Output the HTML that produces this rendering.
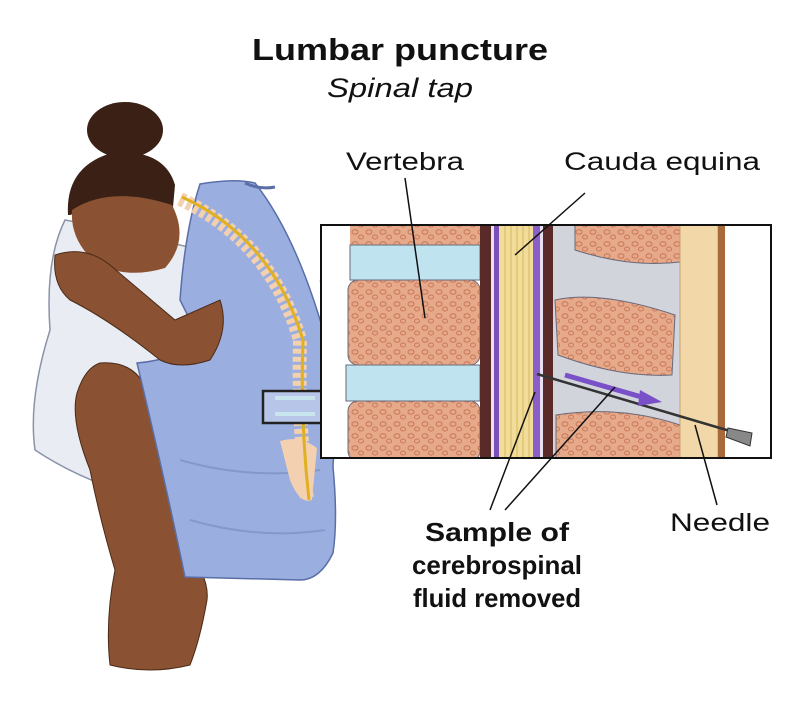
<!DOCTYPE html>
<html><head><meta charset="utf-8"><style>
body{margin:0;background:#fff;}
svg{display:block}
text{font-family:"Liberation Sans",sans-serif;fill:#111}
</style></head><body>
<svg width="800" height="710" viewBox="0 0 800 710" xmlns="http://www.w3.org/2000/svg">
<defs>
<pattern id="bone" width="14" height="12" patternUnits="userSpaceOnUse">
<rect width="14" height="12" fill="#e6a98a"/>
<ellipse cx="5" cy="4" rx="3" ry="2.2" fill="none" stroke="#c9785a" stroke-width="1"/>
<ellipse cx="11" cy="9" rx="2.5" ry="2" fill="none" stroke="#c9785a" stroke-width="1"/>
</pattern>
<clipPath id="box"><rect x="321" y="225" width="450" height="233"/></clipPath>
</defs>
<text x="400" y="60" text-anchor="middle" font-size="31" font-weight="bold" textLength="296" lengthAdjust="spacingAndGlyphs">Lumbar puncture</text>
<text x="400" y="97" text-anchor="middle" font-size="27" font-style="italic" textLength="146" lengthAdjust="spacingAndGlyphs">Spinal tap</text>
<text x="405" y="170" text-anchor="middle" font-size="25" textLength="118" lengthAdjust="spacingAndGlyphs">Vertebra</text>
<text x="662" y="170" text-anchor="middle" font-size="25" textLength="196" lengthAdjust="spacingAndGlyphs">Cauda equina</text>
<text x="497" y="541" text-anchor="middle" font-size="26" font-weight="bold" textLength="144" lengthAdjust="spacingAndGlyphs">Sample of</text>
<text x="497" y="574" text-anchor="middle" font-size="26" font-weight="bold" textLength="170" lengthAdjust="spacingAndGlyphs">cerebrospinal</text>
<text x="497" y="607" text-anchor="middle" font-size="26" font-weight="bold" textLength="168" lengthAdjust="spacingAndGlyphs">fluid removed</text>
<text x="720" y="531" text-anchor="middle" font-size="25" textLength="100" lengthAdjust="spacingAndGlyphs">Needle</text>

<!-- pillow -->
<path d="M65 220 Q120 230 200 250 L205 420 Q180 470 140 497 Q80 480 35 450 Q28 400 50 330 Q45 260 65 220Z" fill="#e9ecf2" stroke="#8a93a8" stroke-width="1.5"/>
<!-- leg -->
<path d="M100 363 Q140 360 150 400 Q165 470 180 540 Q210 575 207 600 Q200 640 190 665 Q150 675 110 665 Q105 620 115 570 Q100 520 90 470 Q70 420 77 393 Q85 368 100 363Z" fill="#8a5232" stroke="#4a2a18" stroke-width="1"/>
<!-- gown -->
<path d="M200 184 Q235 178 255 183 Q300 240 330 355 Q336 420 333 467 Q338 520 333 553 Q320 580 300 580 L185 577 Q165 480 137 363 Q175 360 200 340 L180 300 Q185 230 200 184Z" fill="#9aaee0" stroke="#5a6fa8" stroke-width="1.5"/>
<path d="M245 183 Q260 190 275 187 M320 280 Q335 285 340 300" stroke="#5a6fa8" stroke-width="3" fill="none"/>
<path d="M180 460 Q250 480 320 470 M190 520 Q260 540 325 530" stroke="#8598cc" stroke-width="2" fill="none"/>
<!-- spine -->
<path d="M180 199 Q270 240 300 340 Q298 420 307 500" fill="none" stroke="#f2d0b0" stroke-width="14" stroke-dasharray="5 3"/>
<path d="M280 441 Q300 435 317 448 L312 500 Q300 505 290 480 Z" fill="#f2d0b0"/>
<path d="M182 197 Q272 238 303 340 Q300 420 309 500" fill="none" stroke="#e0b020" stroke-width="3"/>
<!-- hair/head -->
<ellipse cx="125" cy="130" rx="38" ry="28" fill="#3a2015"/>
<path d="M68 215 Q65 165 115 152 Q165 150 175 185 L172 218 Q140 190 70 215Z" fill="#3a2015"/>
<path d="M72 210 Q110 185 172 205 Q190 240 165 268 Q125 280 95 262 Q70 240 72 210Z" fill="#8a5232"/>
<!-- arm -->
<path d="M55 255 Q85 245 110 265 L175 320 L220 300 Q230 330 210 360 Q180 370 160 360 Q110 320 70 300 Q52 285 55 255Z" fill="#8a5232" stroke="#4a2a18" stroke-width="1"/>
<rect x="263" y="391" width="68" height="32" fill="#b7c6e8" stroke="#222" stroke-width="2.5"/>
<path d="M275 398 H315 M275 414 H315" stroke="#c9e6ee" stroke-width="4"/>

<!-- inset -->
<g clip-path="url(#box)">
<rect x="321" y="225" width="450" height="233" fill="#fff"/>
<rect x="350" y="220" width="130" height="25" fill="url(#bone)"/>
<rect x="350" y="245" width="130" height="35" fill="#bfe4ef" stroke="#6a6a7a"/>
<rect x="348" y="280" width="132" height="85" rx="10" fill="url(#bone)" stroke="#6a6a7a"/>
<rect x="346" y="365" width="134" height="36" fill="#bfe4ef" stroke="#6a6a7a"/>
<rect x="348" y="401" width="132" height="60" rx="10" fill="url(#bone)" stroke="#6a6a7a"/>
<rect x="480" y="225" width="11" height="233" fill="#5a2a28"/>
<rect x="491" y="225" width="3" height="233" fill="#e8e0f0"/>
<rect x="494" y="225" width="5" height="233" fill="#7a50b8"/>
<rect x="499" y="225" width="34" height="233" fill="#f2dc9a"/>
<g stroke="#d8b860" stroke-width="1"><path d="M505 225V458M511 225V458M517 225V458M523 225V458M529 225V458"/></g>
<rect x="533" y="225" width="7" height="233" fill="#8a60c8"/>
<rect x="540" y="225" width="3" height="233" fill="#e8e0f0"/>
<rect x="543" y="225" width="10" height="233" fill="#5a2a28"/>
<rect x="553" y="225" width="130" height="233" fill="#d2d4dc"/>
<path d="M575 225 L685 225 L680 262 Q630 268 575 250 Z" fill="url(#bone)" stroke="#6a6a7a"/>
<path d="M555 300 Q600 290 675 315 L672 375 Q620 378 558 355 Z" fill="url(#bone)" stroke="#6a6a7a"/>
<path d="M556 415 Q620 405 680 425 L680 460 L556 460 Z" fill="url(#bone)" stroke="#6a6a7a"/>
<rect x="680" y="225" width="38" height="233" fill="#f2d8a8" stroke="#c8a070"/>
<rect x="718" y="225" width="7" height="233" fill="#a86a3a"/>
</g>
<rect x="321" y="225" width="450" height="233" fill="none" stroke="#111" stroke-width="2"/>
<line x1="537" y1="374" x2="730" y2="431" stroke="#333" stroke-width="2.5"/>
<path d="M728 428 L752 433 L750 446 L726 437 Z" fill="#888" stroke="#333"/>
<path d="M565 375 L645 398" stroke="#7a50c8" stroke-width="5"/>
<path d="M640 390 L662 402 L638 406 Z" fill="#7a50c8"/>
<g stroke="#111" stroke-width="1.5">
<line x1="405" y1="178" x2="425" y2="318"/>
<line x1="585" y1="193" x2="515" y2="255"/>
<line x1="535" y1="392" x2="490" y2="510"/>
<line x1="615" y1="387" x2="505" y2="510"/>
<line x1="695" y1="425" x2="717" y2="505"/>
</g>
</svg>
</body></html>
